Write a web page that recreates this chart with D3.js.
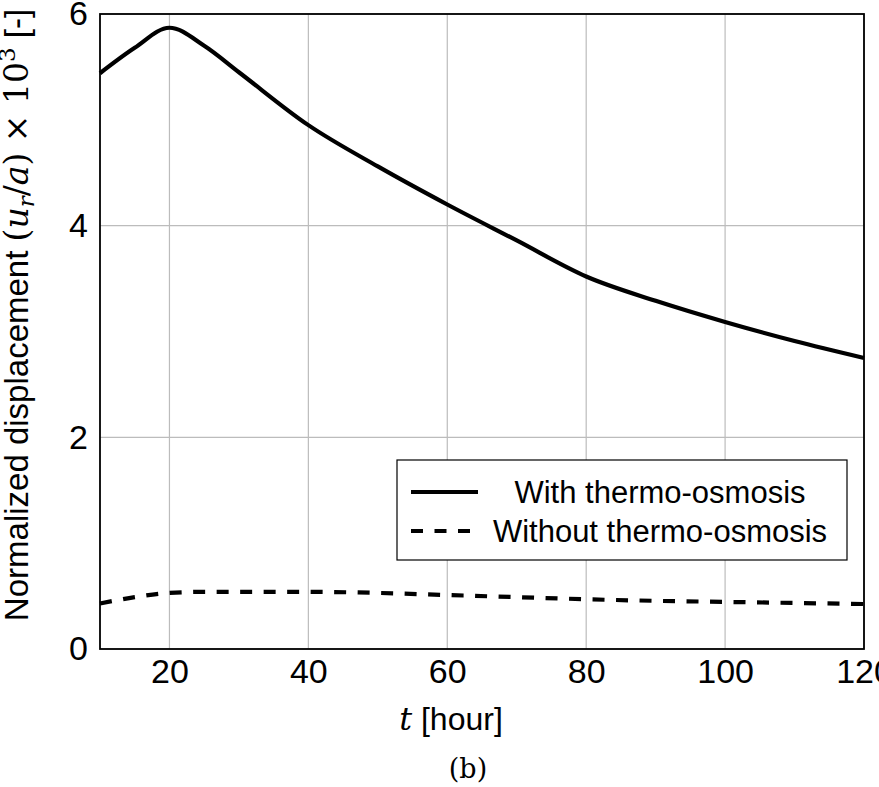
<!DOCTYPE html>
<html>
<head>
<meta charset="utf-8">
<script src="https://cdn.jsdelivr.net/npm/d3@7"></script>
<style>
  html, body { margin: 0; padding: 0; background: #fff; }
  svg { display: block; }
</style>
</head>
<body>
<svg id="chart" width="879" height="787"></svg>
<script>
// Time in hours
const hours = [10, 15, 20, 25, 30, 40, 50, 60, 70, 80, 90, 100, 110, 120];
// Normalized radial displacement (u_r/a) x 10^3
const withThermoOsmosis = [5.44, 5.68, 5.87, 5.70, 5.45, 4.95, 4.56, 4.20, 3.86, 3.52, 3.29, 3.09, 2.91, 2.75];
const withoutThermoOsmosis = [0.43, 0.49, 0.53, 0.54, 0.54, 0.54, 0.53, 0.51, 0.49, 0.47, 0.455, 0.445, 0.435, 0.425];

const xTicks = [20, 40, 60, 80, 100, 120];
const yTicks = [0, 2, 4, 6];
const seriesNames = ["With thermo-osmosis", "Without thermo-osmosis"];

const svg = d3.select("#chart");
const m = { left: 100, right: 864, top: 14, bottom: 649 };

const x = d3.scaleLinear().domain([10, 120]).range([m.left, m.right]);
const y = d3.scaleLinear().domain([0, 6]).range([m.bottom, m.top]);

const sans = "'Liberation Sans', Arial, Helvetica, sans-serif";
const serif = "'DejaVu Serif', 'Liberation Serif', serif";

// Grid
const grid = svg.append("g").attr("stroke", "#bcbcbc").attr("stroke-width", 1.2);
grid.selectAll("line.vx").data(xTicks).join("line")
  .attr("x1", d => x(d)).attr("x2", d => x(d))
  .attr("y1", m.top).attr("y2", m.bottom);
grid.selectAll("line.hy").data(yTicks).join("line")
  .attr("x1", m.left).attr("x2", m.right)
  .attr("y1", d => y(d)).attr("y2", d => y(d));

// Axes with tick labels
const xAxis = svg.append("g")
  .attr("transform", `translate(0,${m.bottom})`)
  .call(d3.axisBottom(x).tickValues(xTicks).tickFormat(d3.format("d")).tickSize(0).tickPadding(10));
const yAxis = svg.append("g")
  .attr("transform", `translate(${m.left},0)`)
  .call(d3.axisLeft(y).tickValues(yTicks).tickFormat(d3.format("d")).tickSize(0).tickPadding(12));
[xAxis, yAxis].forEach(a => {
  a.select(".domain").remove();
  a.selectAll("text").attr("font-family", sans).attr("font-size", 34).attr("fill", "#000");
});

// Lines
const line = d3.line().x((d, i) => x(hours[i])).y(d => y(d)).curve(d3.curveMonotoneX);
svg.append("path").datum(withThermoOsmosis)
  .attr("d", line).attr("fill", "none").attr("stroke", "#000").attr("stroke-width", 4.2)
  .attr("stroke-linejoin", "round");
svg.append("path").datum(withoutThermoOsmosis)
  .attr("d", line).attr("fill", "none").attr("stroke", "#000").attr("stroke-width", 4.2)
  .attr("stroke-dasharray", "12,11.5");

// Frame
svg.append("rect")
  .attr("x", m.left).attr("y", m.top)
  .attr("width", m.right - m.left).attr("height", m.bottom - m.top)
  .attr("fill", "none").attr("stroke", "#000").attr("stroke-width", 1.8);

// Legend
const lg = svg.append("g");
lg.append("rect").attr("x", 397).attr("y", 460).attr("width", 450).attr("height", 100)
  .attr("fill", "#fff").attr("stroke", "#000").attr("stroke-width", 1.2);
const dashes = [null, "12,11.5"];
seriesNames.forEach((name, i) => {
  const yy = 492 + i * 39;
  lg.append("line").attr("x1", 411).attr("x2", 478).attr("y1", yy).attr("y2", yy)
    .attr("stroke", "#000").attr("stroke-width", 4.2)
    .attr("stroke-dasharray", dashes[i]);
  lg.append("text").attr("x", 660).attr("y", yy).attr("dy", "0.35em")
    .attr("text-anchor", "middle").attr("font-family", sans).attr("font-size", 31)
    .text(name);
});

// X axis title
const xt = svg.append("text").attr("x", 451).attr("y", 730)
  .attr("text-anchor", "middle").attr("font-size", 32);
xt.append("tspan").attr("font-family", serif).attr("font-style", "italic").text("t");
xt.append("tspan").attr("font-family", sans).text(" [hour]");

// Y axis title
const yt = svg.append("text")
  .attr("transform", "translate(28,315) rotate(-90)")
  .attr("text-anchor", "middle").attr("font-size", 33);
yt.append("tspan").attr("font-family", sans).text("Normalized displacement ");
yt.append("tspan").attr("font-family", serif).text("(");
yt.append("tspan").attr("font-family", serif).attr("font-style", "italic").text("u");
yt.append("tspan").attr("font-family", serif).attr("font-style", "italic").attr("font-size", 23).attr("dy", 6).text("r");
yt.append("tspan").attr("font-family", serif).attr("dy", -6).text("/");
yt.append("tspan").attr("font-family", serif).attr("font-style", "italic").text("a");
yt.append("tspan").attr("font-family", serif).text(") × 10");
yt.append("tspan").attr("font-family", serif).attr("font-size", 23).attr("dy", -13).text("3");
yt.append("tspan").attr("font-family", sans).attr("dy", 13).text(" [-]");

// Caption
svg.append("text").attr("x", 468).attr("y", 778).attr("text-anchor", "middle")
  .attr("font-family", serif).attr("font-size", 27).text("(b)");
</script>
</body>
</html>
